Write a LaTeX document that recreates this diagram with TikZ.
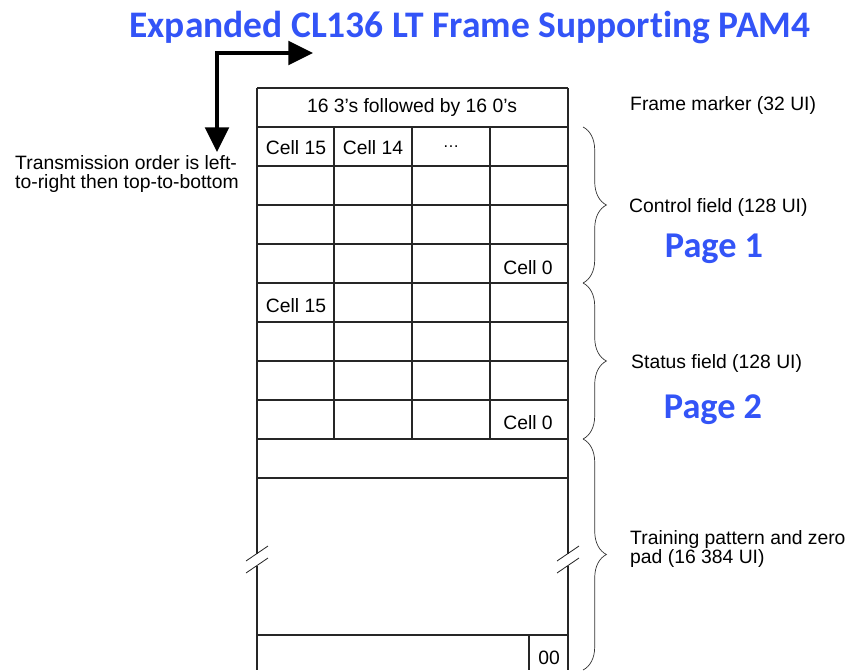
\documentclass[tikz,border=0pt]{standalone}
\usepackage{fontspec}
\setmainfont{Liberation Sans}
\newfontfamily\calfont[Ligatures=NoCommon]{Carlito}
\usetikzlibrary{arrows.meta,decorations.pathreplacing}
\definecolor{pageblue}{RGB}{51,84,247}

\begin{document}
\begin{tikzpicture}[x=0.03cm,y=-0.03cm,
		txt/.style={inner sep=0pt,font=\fontsize{16.5}{17}\selectfont},
		blue text/.style={inner sep=0pt,text=pageblue,font=\calfont\bfseries\fontsize{31}{34}\selectfont},
		frame line/.style={line width=0.95pt,black!85},
		field brace/.style={decorate,decoration={brace,amplitude=20pt},line width=0.6pt,black!80},
		order arrow/.style={line width=3.4pt,{Triangle[length=21pt,width=20pt]}-{Triangle[length=21pt,width=20pt]}}]
	\useasboundingbox (0,0) rectangle (851,670);
	\node[blue text,anchor=base,font=\calfont\bfseries\fontsize{32}{34}\selectfont] (title) at (470,37) {Expanded CL136 LT Frame Supporting PAM4};
	% frame grid
	\foreach \y in {88,127,...,478} \draw[frame line] (257,\y) -- (568,\y);
	\foreach \x in {334,412,490} \draw[frame line] (\x,127) -- (\x,439);
	\draw[frame line] (257,635) -- (568,635) (529,635) -- (529,670);
	\foreach \x in {257,568} {
		\draw[frame line] (\x,88) -- (\x,553.5) (\x,565.5) -- (\x,670);
		\draw[frame line,line width=0.7pt] (\x-11,561) -- (\x+11,546) (\x-11,573) -- (\x+11,558);
	}
	% cell labels
	\node[txt] (marker) at (412,107) {16 3’s followed by 16 0’s};
	\node[txt] (cella) at (296,148) {Cell 15};
	\node[txt] (cellb) at (373,148) {Cell 14};
	\node[txt,font=\fontsize{14}{14}\selectfont] (dots) at (451,147) {…};
	\node[txt,anchor=east] (cellc) at (553,268) {Cell 0};
	\node[txt] (celld) at (296,306) {Cell 15};
	\node[txt,anchor=east] (celle) at (553,423) {Cell 0};
	\node[txt] (pad) at (549,658) {00};
	% fields
	\draw[field brace] (583,127) -- (583,283);
	\draw[field brace] (583,283) -- (583,439);
	\draw[field brace] (583,439) -- (583,670);
	\node[txt,anchor=west] (fm) at (630,105) {Frame marker (32 UI)};
	\node[txt,anchor=west] (cf) at (629,207) {Control field (128 UI)};
	\node[blue text,anchor=base] (pagea) at (714,257) {Page 1};
	\node[txt,anchor=west] (sf) at (631,363) {Status field (128 UI)};
	\node[blue text,anchor=base] (pageb) at (713,418) {Page 2};
	\node[txt,anchor=west,align=left] (tp) at (630,549) {Training pattern and zero\\pad (16 384 UI)};
	% transmission order
	\node[txt,anchor=west,align=left] (order) at (15,174) {Transmission order is left-\\to-right then top-to-bottom};
	\coordinate (down) at (217,152);
	\coordinate (right) at (313,53);
	\draw[order arrow] (down) |- (right);
\end{tikzpicture}
\end{document}
